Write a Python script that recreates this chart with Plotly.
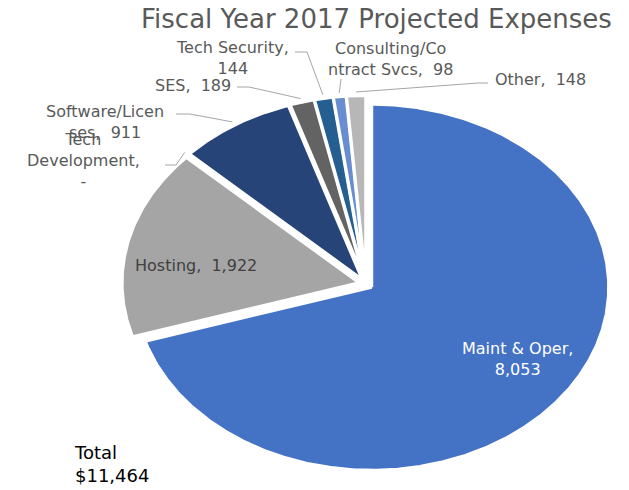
import numpy as np
import plotly.graph_objects as go

# FY2017 projected expenses (thousands of dollars)
categories = ["Maint & Oper", "Hosting", "Tech Development", "Software/Licenses",
              "SES", "Tech Security", "Consulting/Contract Svcs", "Other"]
values = [8053, 1922, 0, 911, 189, 144, 98, 148]
# wrapped category names as shown in the data labels
label_names = ["Maint & Oper,<br>", "Hosting,  ", "Tech<br>Development,<br>",
               "Software/Licen<br>ses,  ", "SES,  ", "Tech Security,<br>",
               "Consulting/Co<br>ntract Svcs,  ", "Other,  "]
colors = ["#4472C4", "#A5A5A5", "#7F7F7F", "#264478",
          "#636363", "#255E91", "#698ED0", "#B7B7B7"]
total_reported = 11464
title_text = "Fiscal Year 2017 Projected Expenses"

W, H = 629, 490
FONT = "DejaVu Sans"
LABEL_GREY = "#595959"

# ellipse geometry in screen units (y axis runs downward)
cx, cy = 366, 284
rx, ry = 237, 183
pull = 0.03

# label placement: (x, y, xanchor, text colour, leader elbow points)
label_layout = {
    "Maint & Oper": (517, 359, "center", "white", None),
    "Hosting": (196, 265, "center", "#404040", None),
    "Tech Development": (83, 160, "center", LABEL_GREY, [(165, 165), (176, 165)]),
    "Software/Licenses": (105, 122, "center", LABEL_GREY, [(176, 114), (190, 114)]),
    "SES": (233, 85, "right", LABEL_GREY, [(237, 87), (249, 87)]),
    "Tech Security": (232, 58, "center", LABEL_GREY, [(295, 52), (307, 52)]),
    "Consulting/Contract Svcs": (390, 59, "center", LABEL_GREY, [(341, 79)]),
    "Other": (493, 79, "left", LABEL_GREY, [(488, 83), (478, 83)]),
}


def fmt(v):
    return "-" if v == 0 else f"{v:,}"


fig = go.Figure()
total = sum(values)
start = 0.0
annotations = []
for name, v, col, lname in zip(categories, values, colors, label_names):
    a0 = start
    a1 = start + v / total * 360.0
    start = a1
    mid = np.radians((a0 + a1) / 2)
    ox = pull * rx * np.sin(mid)
    oy = -pull * ry * np.cos(mid)
    if v > 0:
        n = max(int((a1 - a0) * 2), 2) + 1
        t = np.radians(np.linspace(a0, a1, n))
        xs = np.concatenate([[cx + ox], cx + ox + rx * np.sin(t), [cx + ox]])
        ys = np.concatenate([[cy + oy], cy + oy - ry * np.cos(t), [cy + oy]])
        fig.add_trace(go.Scatter(
            x=xs, y=ys, mode="lines", fill="toself", fillcolor=col,
            line=dict(color="white", width=3), name=name,
            hovertemplate=f"{name}: {v:,}<extra></extra>", showlegend=False))

    lx, ly, xa, tcol, elbows = label_layout[name]
    if elbows:
        rr = 1 + pull + 0.02
        ex = cx + rr * rx * np.sin(mid)
        ey = cy - rr * ry * np.cos(mid)
        px = [p[0] for p in elbows] + [ex]
        py = [p[1] for p in elbows] + [ey]
        fig.add_trace(go.Scatter(x=px, y=py, mode="lines",
                                 line=dict(color="#A6A6A6", width=1),
                                 hoverinfo="skip", showlegend=False))
    annotations.append(dict(
        x=lx, y=ly, xref="x", yref="y", xanchor=xa, yanchor="middle",
        text=lname + fmt(v), showarrow=False, align="center",
        font=dict(family=FONT, size=16, color=tcol)))

annotations.append(dict(
    x=376, y=19, xref="x", yref="y", xanchor="center", yanchor="middle",
    text=title_text, showarrow=False,
    font=dict(family=FONT, size=26, color=LABEL_GREY)))
annotations.append(dict(
    x=72, y=464, xref="x", yref="y", xanchor="left", yanchor="middle",
    text=f"Total<br>${total_reported:,}", showarrow=False, align="left",
    font=dict(family=FONT, size=18, color="#000000")))

fig.update_layout(
    width=W, height=H,
    margin=dict(l=0, r=0, t=0, b=0),
    paper_bgcolor="white", plot_bgcolor="white",
    xaxis=dict(range=[0, W], visible=False, fixedrange=True),
    yaxis=dict(range=[H, 0], visible=False, fixedrange=True),
    annotations=annotations,
    showlegend=False,
)

fig.write_html("out.html")
